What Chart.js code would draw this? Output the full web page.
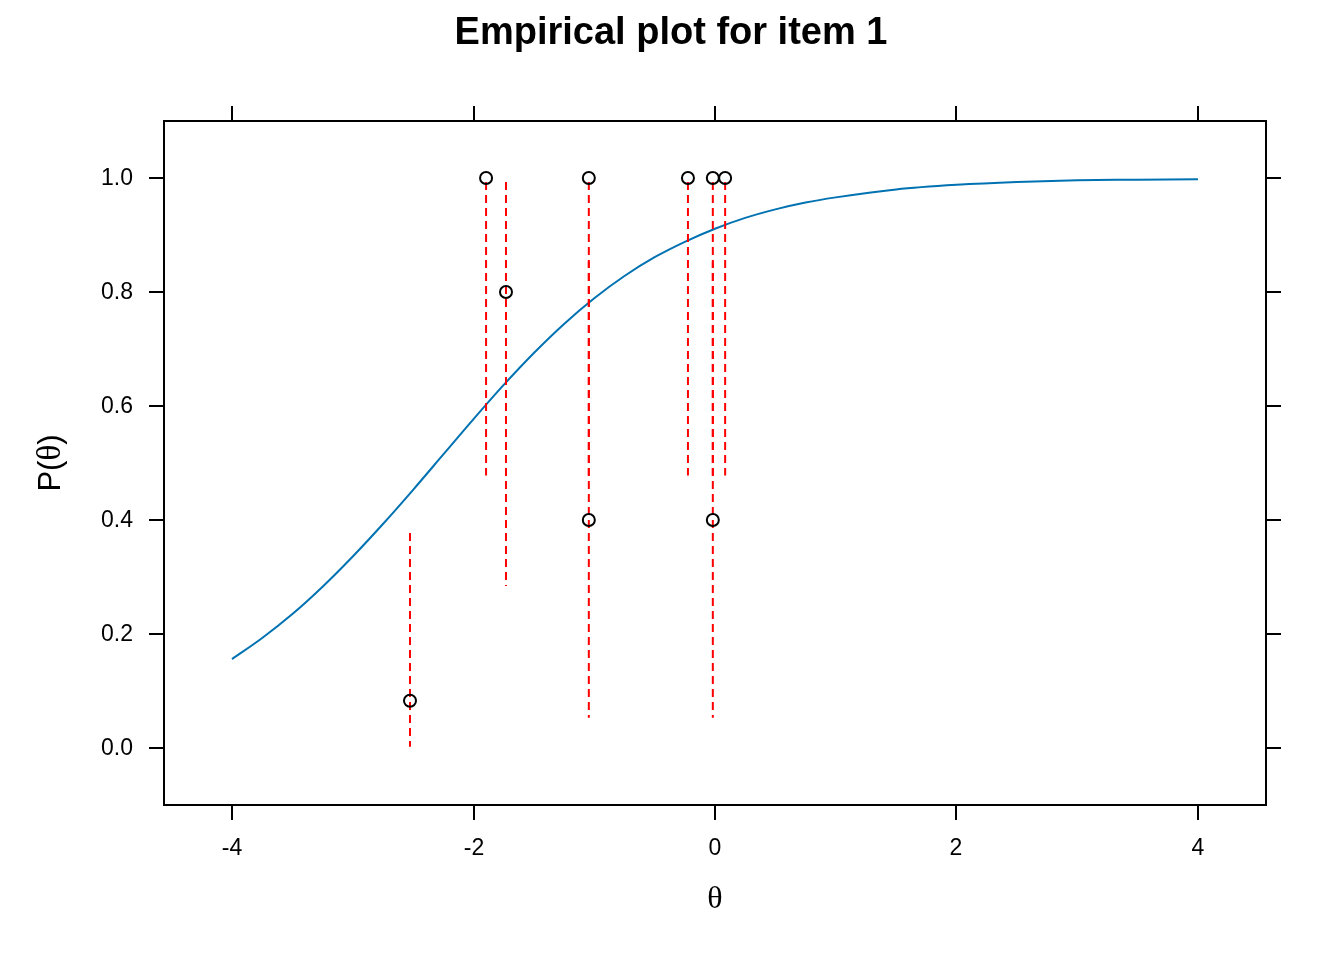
<!DOCTYPE html>
<html>
<head>
<meta charset="utf-8">
<title>Empirical plot for item 1</title>
<script src="https://cdn.jsdelivr.net/npm/chart.js@4.4.0/dist/chart.umd.min.js"></script>
<style>
  html, body { margin: 0; padding: 0; background: #fff; }
  canvas { display: block; }
</style>
</head>
<body>
<canvas id="empiricalChart" width="1344" height="960"></canvas>
<script>
// Item characteristic curve
const thetaGrid = [-4, -3.75, -3.5, -3.25, -3, -2.75, -2.5, -2.25, -2, -1.75, -1.5, -1.25, -1, -0.75, -0.5, -0.25, 0, 0.25, 0.5, 0.75, 1, 1.5, 2, 2.5, 3, 3.5, 4];
const curveProb = [0.156, 0.193, 0.235, 0.283, 0.336, 0.393, 0.453, 0.515, 0.577, 0.637, 0.693, 0.744, 0.789, 0.828, 0.861, 0.888, 0.911, 0.930, 0.945, 0.957, 0.966, 0.980, 0.988, 0.993, 0.996, 0.997, 0.998];

// Empirical proportions and their intervals
const binTheta = [-2.526, -1.896, -1.731, -1.045, -1.045, -0.224, -0.018, -0.018, 0.084];
const binProp  = [0.083, 1.0, 0.8, 1.0, 0.4, 1.0, 1.0, 0.4, 1.0];
const ciLow    = [0.002, 0.478, 0.284, 0.478, 0.053, 0.478, 0.478, 0.053, 0.478];
const ciHigh   = [0.385, 1.0, 0.995, 1.0, 0.853, 1.0, 1.0, 0.853, 1.0];

// Tick labels
const xTicks = [-4, -2, 0, 2, 4];
const yTicks = [0.0, 0.2, 0.4, 0.6, 0.8, 1.0];

const curveData = thetaGrid.map((t, i) => ({ x: t, y: curveProb[i] }));
const pointData = binTheta.map((t, i) => ({ x: t, y: binProp[i] }));

// dashed intervals, drawn top to bottom; dash phase tied to the page so overlaps stay dashed
const ciSets = binTheta.map((t, i) => ({
    type: 'line',
    data: [{ x: t, y: ciHigh[i] }, { x: t, y: ciLow[i] }],
    borderColor: '#ff0000',
    borderWidth: 2,
    borderDash: [8, 5],
    borderDashOffset: (c) => {
        const s = c.chart.scales && c.chart.scales.y;
        return s ? s.getPixelForValue(ciHigh[i]) : 0;
    },
    pointRadius: 0,
    fill: false,
    order: 1
}));

// lattice-style box, ticks and labels
const latticeFrame = {
    id: 'latticeFrame',
    afterDraw(chart) {
        const { ctx, chartArea: a, scales: { x, y } } = chart;
        const seg = (x1, y1, x2, y2) => {
            ctx.beginPath();
            ctx.moveTo(x1, y1);
            ctx.lineTo(x2, y2);
            ctx.stroke();
        };
        ctx.save();
        ctx.strokeStyle = '#000';
        ctx.fillStyle = '#000';
        ctx.lineWidth = 2;
        ctx.strokeRect(a.left, a.top, a.right - a.left, a.bottom - a.top);

        ctx.font = '23px "Liberation Sans", Arial, sans-serif';
        ctx.textAlign = 'center';
        ctx.textBaseline = 'middle';
        xTicks.forEach(v => {
            const px = Math.round(x.getPixelForValue(v));
            seg(px, a.bottom, px, a.bottom + 15);
            seg(px, a.top, px, a.top - 15);
            ctx.fillText(String(v), px, a.bottom + 44);
        });
        ctx.textAlign = 'right';
        yTicks.forEach(v => {
            const py = Math.round(y.getPixelForValue(v));
            seg(a.left, py, a.left - 15, py);
            seg(a.right, py, a.right + 15, py);
            ctx.fillText(v.toFixed(1), a.left - 31, py + 1);
        });

        // title
        ctx.textAlign = 'center';
        ctx.font = 'bold 38px "Liberation Sans", Arial, sans-serif';
        ctx.fillText('Empirical plot for item 1', 671, 34);

        // x axis title
        ctx.font = '32px "Liberation Serif", "DejaVu Serif", serif';
        ctx.fillText('θ', (a.left + a.right) / 2, 900);

        // y axis title
        ctx.translate(51, (a.top + a.bottom) / 2);
        ctx.rotate(-Math.PI / 2);
        const sans = '31px "Liberation Sans", Arial, sans-serif';
        const serif = '33px "Liberation Serif", "DejaVu Serif", serif';
        const parts = [['P(', sans], ['θ', serif], [')', sans]];
        let total = 0;
        parts.forEach(p => { ctx.font = p[1]; total += ctx.measureText(p[0]).width; });
        let cx = -total / 2;
        ctx.textAlign = 'left';
        parts.forEach(p => {
            ctx.font = p[1];
            ctx.fillText(p[0], cx, 0);
            cx += ctx.measureText(p[0]).width;
        });
        ctx.restore();
    }
};

const ctx = document.getElementById('empiricalChart').getContext('2d');
const empiricalChart = new Chart(ctx, {
    type: 'scatter',
    data: {
        datasets: [
            {
                type: 'line',
                data: curveData,
                borderColor: '#0072B2',
                borderWidth: 2,
                pointRadius: 0,
                cubicInterpolationMode: 'monotone',
                fill: false,
                order: 2
            },
            ...ciSets,
            {
                data: pointData,
                pointStyle: 'circle',
                pointRadius: 6,
                pointBorderWidth: 2,
                pointBorderColor: '#000',
                pointBackgroundColor: 'rgba(0,0,0,0)',
                order: 0
            }
        ]
    },
    options: {
        responsive: false,
        animation: false,
        devicePixelRatio: 1,
        layout: { padding: { left: 164, right: 78, top: 121, bottom: 155 } },
        plugins: {
            legend: { display: false },
            tooltip: { enabled: false },
            title: { display: false }
        },
        scales: {
            x: { type: 'linear', min: -4.5633, max: 4.5633, display: false },
            y: { type: 'linear', min: -0.1, max: 1.1, display: false }
        }
    },
    plugins: [latticeFrame]
});
</script>
</body>
</html>
